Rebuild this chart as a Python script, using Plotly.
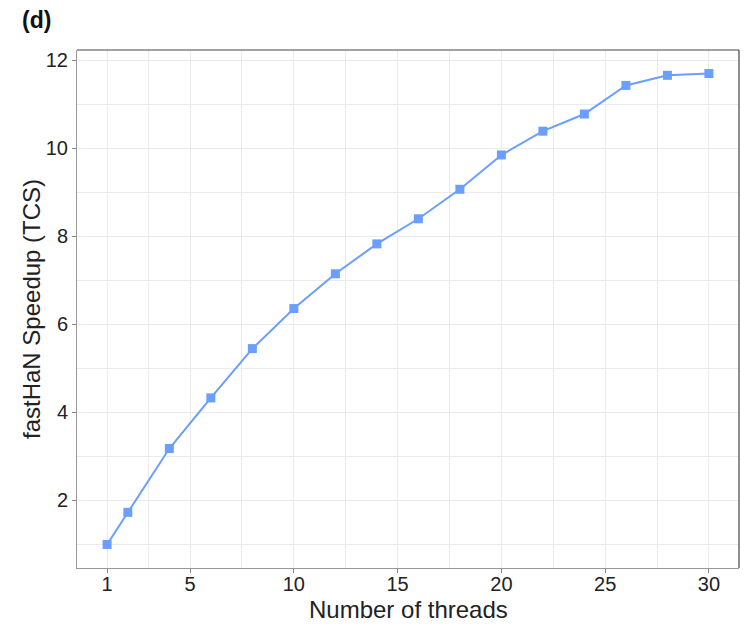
import plotly.graph_objects as go

threads = [1, 2, 4, 6, 8, 10, 12, 14, 16, 18, 20, 22, 24, 26, 28, 30]
speedup = [1.0, 1.73, 3.18, 4.33, 5.45, 6.36, 7.15, 7.83, 8.40, 9.07, 9.85, 10.39, 10.78, 11.43, 11.66, 11.70]
x_ticks = [1, 5, 10, 15, 20, 25, 30]
x_minor = [3, 7.5, 12.5, 17.5, 22.5, 27.5]
y_ticks = [2, 4, 6, 8, 10, 12]
y_minor = [1, 3, 5, 7, 9, 11]

color = "#6A9EFF"
font = "Liberation Sans, Arial, sans-serif"

fig = go.Figure()
fig.add_trace(go.Scatter(
    x=threads, y=speedup, mode="lines+markers",
    line=dict(color=color, width=2),
    marker=dict(symbol="square", size=9, color=color),
    showlegend=False,
))

grid = "#EBEBEB"
fig.update_xaxes(
    range=[-0.45, 31.45], tickvals=x_ticks, ticktext=[str(v) for v in x_ticks],
    showgrid=True, gridcolor=grid, gridwidth=1.1,
    minor=dict(tickvals=x_minor, showgrid=True, gridcolor=grid, gridwidth=1, ticks=""),
    ticks="outside", ticklen=4, tickcolor="#888", tickwidth=1,
    showline=True, linecolor="#999", linewidth=1, zeroline=False,
    tickfont=dict(size=20, color="#222", family=font), automargin=False,
    ticklabelstandoff=-6,
)
fig.update_yaxes(
    range=[0.465, 12.235], tickvals=y_ticks, ticktext=[str(v) for v in y_ticks],
    showgrid=True, gridcolor=grid, gridwidth=1.1,
    minor=dict(tickvals=y_minor, showgrid=True, gridcolor=grid, gridwidth=1, ticks=""),
    ticks="outside", ticklen=4, tickcolor="#888", tickwidth=1,
    showline=True, linecolor="#999", linewidth=1, zeroline=False,
    tickfont=dict(size=20, color="#222", family=font), automargin=False,
)

# top and right panel border
fig.add_shape(type="line", xref="paper", yref="paper", x0=0, x1=1, y0=1, y1=1,
              line=dict(color="#444", width=1.2))
fig.add_shape(type="line", xref="paper", yref="paper", x0=1, x1=1, y0=0, y1=1,
              line=dict(color="#444", width=1.2))

# axis titles
fig.add_annotation(text="Number of threads", xref="paper", yref="paper", x=0.5, y=0,
                   yshift=-41, xanchor="center", yanchor="middle", showarrow=False,
                   font=dict(size=24, color="#222", family=font))
fig.add_annotation(text="fastHaN Speedup (TCS)", xref="paper", yref="paper", x=0, y=0.5,
                   xshift=-46, xanchor="center", yanchor="middle", textangle=-90, showarrow=False,
                   font=dict(size=24, color="#222", family=font))

fig.add_annotation(text="<b>(d)</b>", xref="paper", yref="paper", x=0, y=1,
                   xshift=-57, yshift=30, xanchor="left", yanchor="middle", showarrow=False,
                   font=dict(size=23, color="#111", family=font))

# body has an 8px margin in the page, so offset the figure accordingly
fig.update_layout(
    width=743, height=619,
    margin=dict(l=69, r=12, t=42, b=59, autoexpand=False),
    plot_bgcolor="white", paper_bgcolor="white",
    font=dict(family=font),
)

fig.write_html("out.html")
